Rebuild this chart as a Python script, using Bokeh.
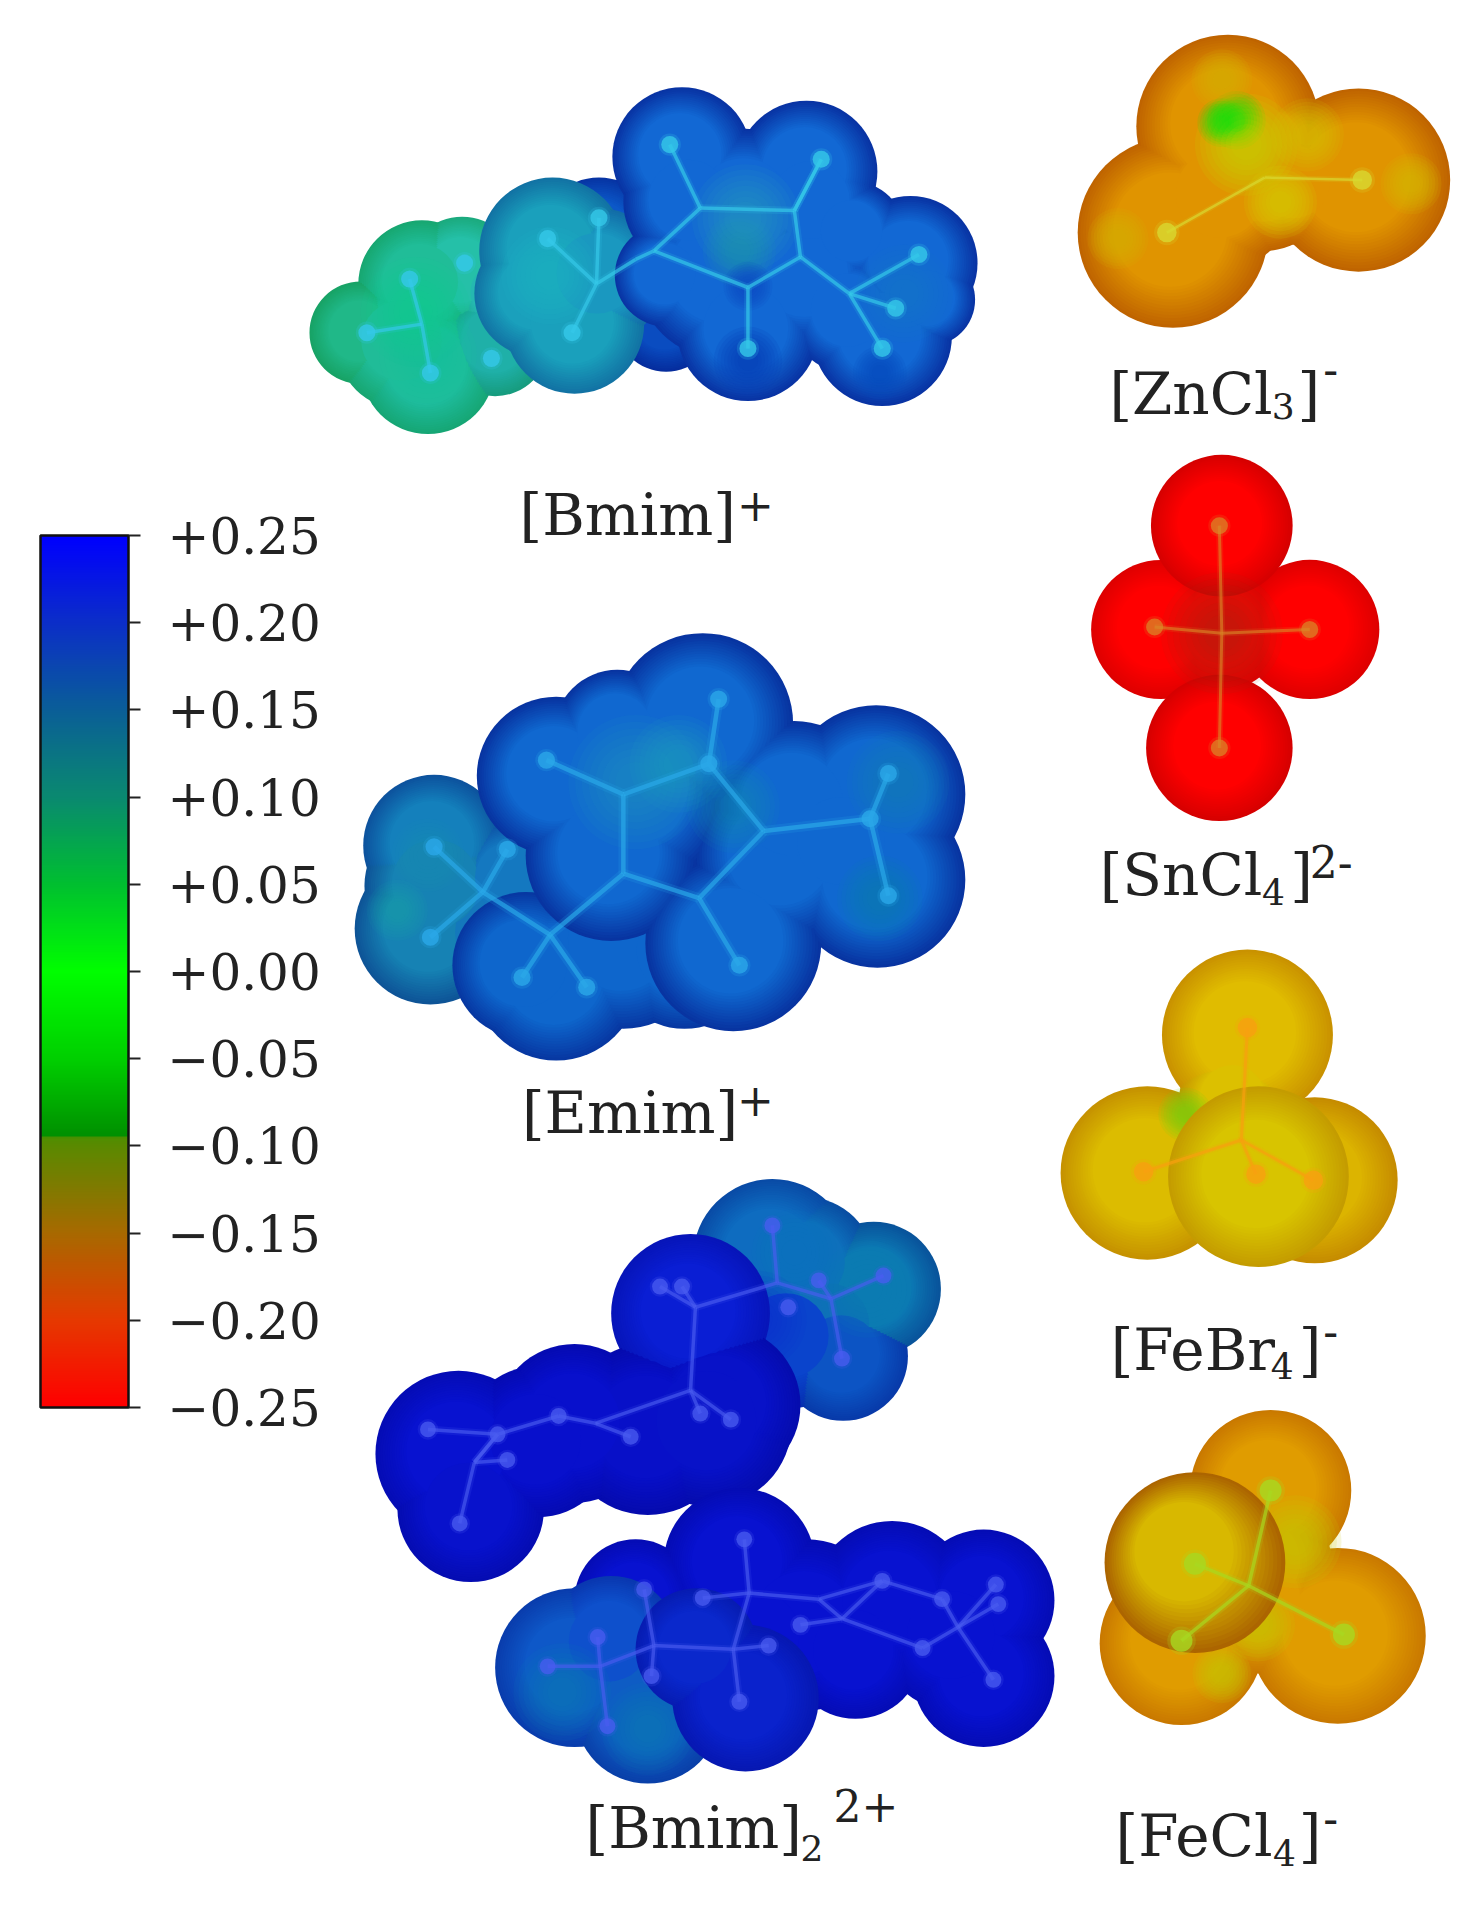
import numpy as np
from bokeh.plotting import figure
from bokeh.models import Range1d, ColorBar, LinearColorMapper, FixedTicker
from bokeh.core.properties import value
from bokeh.embed import file_html
from bokeh.resources import INLINE

# ---------- colour scale ----------
tick_values = [-0.25, -0.20, -0.15, -0.10, -0.05, 0.00, 0.05, 0.10, 0.15, 0.20, 0.25]
tick_labels = ["\u22120.25", "\u22120.20", "\u22120.15", "\u22120.10", "\u22120.05", "+0.00",
               "+0.05", "+0.10", "+0.15", "+0.20", "+0.25"]
scale_stops = [-0.25, -0.20, -0.15, -0.10, -0.0955, -0.0945, -0.05, 0.0, 0.05, 0.10, 0.15, 0.20, 0.25]
scale_cols = ["#ff0000", "#e63a00", "#a86a00", "#5a8a00", "#4f8f00", "#009000", "#00d000", "#00ff00",
              "#00c030", "#0a8a70", "#0a5f98", "#0c2fc8", "#0000ff"]

# ---------- [Bmim]+ ----------
bm_back_x = [490, 545, 590]; bm_back_y = [195, 262, 270]; bm_back_r = [50, 42, 40]
bm_back_c = ["#0c58c8", "#0a4cc0", "#0a4cc0"]
bm_green_x = [378, 345, 295, 350, 405, 410, 330]; bm_green_y = [222, 232, 272, 300, 280, 240, 280]
bm_green_r = [45, 52, 42, 55, 44, 40, 55]
bm_green_c = ["#25c0a8", "#20bd98", "#20b888", "#1ebc9c", "#1fb0a8", "#25b8b0", "#20bc98"]
bm_teal_x = [452, 440, 470, 490]; bm_teal_y = [205, 240, 265, 225]; bm_teal_r = [60, 52, 57, 55]
bm_teal_c = ["#1aa0bc", "#1aa0bc", "#1aa0bc", "#1a98c0"]
bm_ring_x = [558, 660, 610, 590, 660, 612, 745, 722, 695, 545, 665, 565, 760, 698]
bm_ring_y = [128, 140, 170, 225, 225, 270, 215, 275, 255, 225, 165, 165, 245, 190]
bm_ring_r = [57, 58, 65, 68, 60, 58, 55, 57, 50, 42, 53, 55, 38, 42]
bm_ring_c = ["#1268d4"] * 14
bm_glow_x = [610, 605, 450, 340, 350, 740]; bm_glow_y = [178, 205, 225, 255, 290, 240]; bm_glow_r = [44, 30, 40, 45, 40, 40]
bm_glow_c = ["#28a8b8", "#20a0a8", "#22c0c8", "#10cf90", "#14cc98", "#1878c8"]
bm_dark_x = [612, 612, 720]; bm_dark_y = [234, 295, 305]; bm_dark_r = [20, 28, 22]; bm_dark_c = ["#0c4cc0", "#0a3cb8", "#0a48bc"]
bm_node_x = [548, 672, 573, 650, 535, 612, 612, 655, 695, 752, 722, 733, 520, 448, 490, 468, 400, 335, 345, 300, 352, 380, 402, 488]
bm_node_y = [118, 130, 170, 172, 205, 235, 285, 210, 240, 208, 285, 252, 212, 195, 178, 272, 290, 228, 265, 272, 305, 215, 293, 232]
bm_ball = [0, 1, 6, 9, 10, 11, 13, 14, 15, 17, 19, 20, 21, 22]
bm_b0 = [0, 2, 3, 1, 2, 3, 4, 5, 5, 7, 8, 8, 8, 4, 12, 23, 23, 23, 18, 18, 18]
bm_b1 = [2, 3, 1, 3, 4, 7, 5, 6, 7, 8, 9, 10, 11, 12, 23, 13, 14, 15, 17, 19, 20]
bm_skel_c = "#35c8e8"

# ---------- [Emim]+ ----------
em_tail_x = [355, 352, 410, 358, 420]; em_tail_y = [692, 760, 765, 725, 720]; em_tail_r = [58, 62, 60, 60, 50]
em_tail_c = ["#1480bc", "#1682b4", "#1478bc", "#1682b4", "#1478c0"]
em_low_x = [455, 430, 510, 560]; em_low_y = [800, 790, 770, 780]; em_low_r = [68, 60, 72, 62]
em_low_c = ["#0e66cc"] * 4
em_main_x = [455, 575, 520, 717, 718, 640, 600, 500, 650, 690, 505]
em_main_y = [635, 592, 650, 650, 720, 700, 772, 700, 660, 690, 600]
em_main_r = [65, 74, 75, 73, 72, 72, 72, 70, 70, 60, 52]
em_main_c = ["#1068d0"] * 11
em_glow_x = [520, 555, 600, 735, 325, 350, 720]; em_glow_y = [640, 625, 660, 640, 745, 700, 735]; em_glow_r = [55, 40, 38, 42, 25, 30, 35]
em_glow_c = ["#1ea0c0", "#1fa8b8", "#1890b0", "#1480b0", "#18a8a8", "#1a90b0", "#1080a8"]
em_node_x = [447, 588, 727, 727, 712, 605, 480, 427, 355, 352, 415, 510, 580, 510, 625, 572, 450, 395]
em_node_y = [622, 572, 633, 733, 670, 790, 808, 800, 693, 767, 695, 650, 625, 715, 680, 735, 765, 730]
em_ball = [0, 1, 2, 3, 4, 5, 6, 7, 8, 9, 10, 12]
em_b0 = [0, 11, 12, 12, 11, 13, 15, 14, 4, 4, 15, 13, 16, 16, 16, 17, 17, 17]
em_b1 = [11, 12, 1, 14, 13, 15, 14, 4, 2, 3, 5, 16, 6, 7, 17, 8, 9, 10]
em_skel_c = "#2aa8e8"

# ---------- [Bmim]2 2+ ----------
d1_x = [715, 660, 632, 680, 690, 645]; d1_y = [1055, 1035, 1030, 1085, 1110, 1095]; d1_r = [55, 55, 65, 55, 53, 58]
d1_c = ["#0d78b4", "#0e70bc", "#0e6cc0", "#0e70b8", "#0c54c4", "#0a44cc"]
d2_x = [565, 590, 530, 470, 375, 385, 580, 440]
d2_y = [1075, 1150, 1170, 1165, 1190, 1235, 1165, 1180]
d2_r = [65, 65, 70, 65, 68, 60, 68, 62]
d2_c = ["#0a1ed4", "#0812c8", "#0810c8", "#0810cc", "#0812d0", "#0812cc", "#0812c8", "#0810cc"]
d3_x = [605, 520, 660, 730, 805, 805, 780, 700, 620]
d3_y = [1280, 1310, 1330, 1310, 1310, 1372, 1340, 1352, 1340]
d3_r = [62, 50, 70, 65, 58, 58, 60, 55, 60]
d3_c = ["#0812d0"] * 9
d4_x = [610, 570]; d4_y = [1390, 1350]; d4_r = [60, 50]; d4_c = ["#0a22cc", "#0a28cc"]
d5_x = [470, 530, 500]; d5_y = [1365, 1400, 1345]; d5_r = [65, 60, 55]; d5_c = ["#0e58c8", "#0e5cc4", "#0e50cc"]
d_glow_x = [710, 650, 620, 460, 530]; d_glow_y = [1055, 1025, 1080, 1385, 1415]; d_glow_r = [40, 35, 40, 40, 38]
d_glow_c = ["#1080b0", "#1078b8", "#0a28d0", "#1080b0", "#1080b0"]
dt_node_x = [632, 636, 680, 723, 689, 569, 540, 558, 565, 598, 573, 487, 457, 516, 407, 350, 388, 415, 376, 670, 645]
dt_node_y = [1003, 1050, 1063, 1044, 1112, 1070, 1053, 1053, 1138, 1162, 1157, 1165, 1159, 1176, 1174, 1170, 1197, 1195, 1247, 1048, 1070]
dt_ball = [0, 3, 4, 6, 7, 9, 10, 12, 13, 14, 15, 17, 18, 19, 20]
dt_b0 = [0, 1, 2, 2, 1, 5, 5, 5, 8, 8, 8, 11, 12, 11, 14, 14, 16, 16, 16, 2]
dt_b1 = [1, 2, 3, 4, 5, 6, 7, 8, 9, 10, 11, 12, 14, 13, 15, 16, 17, 18, 14, 19]
db_node_x = [609, 613, 575, 670, 722, 689, 655, 771, 815, 817, 784, 813, 755, 600, 629, 605, 535, 527, 533, 491, 489, 448, 497]
db_node_y = [1260, 1304, 1308, 1309, 1294, 1325, 1330, 1309, 1297, 1313, 1332, 1375, 1349, 1350, 1347, 1393, 1347, 1301, 1372, 1364, 1340, 1364, 1413]
db_ball = [0, 2, 4, 6, 7, 8, 9, 11, 12, 14, 15, 17, 18, 20, 21, 22]
db_b0 = [0, 1, 1, 3, 4, 5, 5, 7, 10, 10, 10, 10, 1, 13, 13, 13, 16, 16, 16, 19, 19, 19, 4, 5]
db_b1 = [1, 2, 3, 4, 7, 3, 6, 10, 8, 9, 11, 12, 13, 14, 15, 16, 17, 18, 19, 20, 21, 22, 5, 12]

# ---------- anions ----------
zn_x = [1005, 960, 1112, 1035, 1060, 1000, 1040]; zn_y = [103, 190, 147, 150, 150, 160, 118]; zn_r = [75, 78, 75, 55, 50, 60, 45]
zn_c = ["#e09400"] * 7
zn_glow_x = [1020, 1012, 1048, 1070, 1000, 915, 1155, 1000]; zn_glow_y = [118, 98, 165, 110, 65, 195, 150, 100]; zn_glow_r = [42, 24, 30, 30, 25, 25, 25, 20]
zn_glow_c = ["#c8d800", "#10e010", "#d8d000", "#d8c000", "#d8b000", "#d8b000", "#d8b800", "#10e010"]
zn_glow_a = 0.14
zn_node_x = [1035, 955, 1115]; zn_node_y = [145, 190, 147]; zn_ball = [1, 2]; zn_b0 = [0, 0]; zn_b1 = [1, 2]

sn_back_x = [950, 1072, 1000]; sn_back_y = [515, 515, 515]; sn_back_r = [57, 57, 50]; sn_back_c = ["#ff0000"] * 3
sn_top_x = [1000]; sn_top_y = [430]; sn_top_r = [58]; sn_top_c = ["#ff0000"]
sn_bot_x = [998]; sn_bot_y = [612]; sn_bot_r = [60]; sn_bot_c = ["#ff0000"]
sn_mid_x = [1000]; sn_mid_y = [518]; sn_mid_r = [50]; sn_mid_c = ["#a02818"]
sn_node_x = [1000, 998, 998, 945, 1072]; sn_node_y = [518, 430, 612, 513, 515]; sn_ball = [1, 2, 3, 4]
sn_b0 = [0, 0, 0, 0]; sn_b1 = [1, 2, 3, 4]

fb_back_x = [1076, 939, 1021, 1010]; fb_back_y = [966, 960, 847, 900]; fb_back_r = [68, 71, 70, 45]
fb_back_c = ["#dcb400", "#dcbc00", "#e0bc00", "#dcc000"]
fb_front_x = [1030]; fb_front_y = [963]; fb_front_r = [74]; fb_front_c = ["#d8c400"]
fb_glow_x = [970]; fb_glow_y = [912]; fb_glow_r = [22]; fb_glow_c = ["#70d810"]
fb_node_x = [1016, 1021, 936, 1075, 1028]; fb_node_y = [933, 841, 959, 966, 961]; fb_ball = [1, 2, 3, 4]
fb_b0 = [0, 0, 0, 0]; fb_b1 = [1, 2, 3, 4]

fc_back_x = [1040, 1095, 967, 1030, 1030]; fc_back_y = [1220, 1339, 1345, 1310, 1280]; fc_back_r = [66, 72, 67, 60, 60]
fc_back_c = ["#e09c00"] * 5
fc_back_glow_x = [1060, 1030, 1000]; fc_back_glow_y = [1262, 1330, 1370]; fc_back_glow_r = [38, 30, 24]
fc_back_glow_c = ["#c8c800", "#c8c800", "#c8c800"]
fc_front_x = [978]; fc_front_y = [1279]; fc_front_r = [74]; fc_front_c = ["#d8b800"]
fc_node_x = [1022, 1040, 978, 967, 1100]; fc_node_y = [1298, 1220, 1280, 1343, 1338]; fc_ball = [1, 2, 3, 4]
fc_b0 = [0, 0, 0, 0]; fc_b1 = [1, 2, 3, 4]

# ---------- labels ----------
main_text = ["[Bmim]", "[Emim]", "[Bmim]", "[ZnCl", "]", "[SnCl", "]", "[FeBr", "]", "[FeCl", "]"]
main_x = [425, 427, 479, 908, 1062, 900, 1056, 909, 1063, 913, 1063]
main_y = [421, 911, 1496, 322, 322, 716, 716, 1105, 1105, 1503, 1503]
sup_text = ["+", "+", "2+", "-", "2-", "-", "-"]
sup_x = [603, 603, 682, 1083, 1072, 1083, 1083]
sup_y = [413, 900, 1478, 301, 705, 1089, 1488]
sub_text = ["2", "3", "4", "4", "4"]
sub_x = [655, 1041, 1033, 1040, 1042]
sub_y = [1513, 332, 730, 1118, 1517]

S = 1.2213
p = figure(width=1460, height=1899, output_backend="svg", toolbar_location=None,
           x_range=Range1d(0, 1460 / S), y_range=Range1d(1899 / S, 0),
           min_border=0, outline_line_color=None, background_fill_color="white")
p.axis.visible = False
p.grid.visible = False


def hex2rgb(c):
    return np.array([int(c[i:i + 2], 16) for i in (1, 3, 5)], float)


def rgb2hex(a):
    a = np.clip(a, 0, 255).astype(int)
    return "#%02x%02x%02x" % tuple(a)


def shaded(c, s):
    a = hex2rgb(c)
    out = a * s
    i = int(np.argmax(a))
    out[i] = a[i] * (s + (1 - s) * 0.55)
    return rgb2hex(out)


def spheres(x, y, r, c, rim=0.62, layers=14, inner=0.6, tilt=0.03):
    x, y, r = map(np.array, (x, y, r))
    for k in range(layers):
        t = k / (layers - 1)
        f = 1 - (1 - inner) * t
        s = rim + (1 - rim) * t
        cols = [shaded(ci, s) for ci in c]
        p.circle(x=x - tilt * t * r, y=y - tilt * t * r, radius=r * f, fill_color=cols, line_color=None)


def glow(x, y, r, c, alpha=0.09, layers=8):
    x, y, r = map(np.array, (x, y, r))
    for k in range(layers):
        f = 1 - 0.8 * k / layers
        p.circle(x=x, y=y, radius=r * f, fill_color=c, fill_alpha=alpha, line_color=None)


def skeleton(nx, ny, ball, b0, b1, col, w=4.5, br=7, alpha=0.7):
    nx, ny = np.array(nx), np.array(ny)
    p.segment(x0=nx[b0], y0=ny[b0], x1=nx[b1], y1=ny[b1], line_color=col, line_width=w * 2.2, line_alpha=alpha * 0.25)
    p.segment(x0=nx[b0], y0=ny[b0], x1=nx[b1], y1=ny[b1], line_color=col, line_width=w, line_alpha=alpha)
    p.circle(x=nx[ball], y=ny[ball], radius=br * 1.3, fill_color=col, fill_alpha=alpha * 0.3, line_color=None)
    p.circle(x=nx[ball], y=ny[ball], radius=br, fill_color=col, fill_alpha=alpha + 0.1, line_color=None)


# Bmim+
spheres(bm_back_x, bm_back_y, bm_back_r, bm_back_c, rim=0.6)
spheres(bm_green_x, bm_green_y, bm_green_r, bm_green_c, rim=0.75)
spheres(bm_teal_x, bm_teal_y, bm_teal_r, bm_teal_c, rim=0.72)
spheres(bm_ring_x, bm_ring_y, bm_ring_r, bm_ring_c, rim=0.5)
glow(bm_glow_x, bm_glow_y, bm_glow_r, bm_glow_c)
glow(bm_dark_x, bm_dark_y, bm_dark_r, bm_dark_c, alpha=0.15)
skeleton(bm_node_x, bm_node_y, bm_ball, bm_b0, bm_b1, bm_skel_c, w=3.5)

# Emim+
spheres(em_tail_x, em_tail_y, em_tail_r, em_tail_c, rim=0.65)
spheres(em_low_x, em_low_y, em_low_r, em_low_c, rim=0.55)
spheres(em_main_x, em_main_y, em_main_r, em_main_c, rim=0.5)
glow(em_glow_x, em_glow_y, em_glow_r, em_glow_c)
skeleton(em_node_x, em_node_y, em_ball, em_b0, em_b1, em_skel_c, w=4.5)

# [Bmim]2 2+
spheres(d1_x, d1_y, d1_r, d1_c, rim=0.7)
glow(d_glow_x[:3], d_glow_y[:3], d_glow_r[:3], d_glow_c[:3])
spheres(d2_x, d2_y, d2_r, d2_c, rim=0.72)
spheres(d3_x, d3_y, d3_r, d3_c, rim=0.72)
spheres(d5_x, d5_y, d5_r, d5_c, rim=0.7)
glow(d_glow_x[3:], d_glow_y[3:], d_glow_r[3:], d_glow_c[3:])
spheres(d4_x, d4_y, d4_r, d4_c, rim=0.72)
skeleton(dt_node_x, dt_node_y, dt_ball, dt_b0, dt_b1, "#4a5cf0", w=3.5, br=6.5, alpha=0.65)
skeleton(db_node_x, db_node_y, db_ball, db_b0, db_b1, "#4a5cf0", w=3.5, br=6.5, alpha=0.65)

# anions
spheres(zn_x, zn_y, zn_r, zn_c, rim=0.68)
glow(zn_glow_x, zn_glow_y, zn_glow_r, zn_glow_c, alpha=zn_glow_a)
skeleton(zn_node_x, zn_node_y, zn_ball, zn_b0, zn_b1, "#d8d830", w=2.5, br=8)

spheres(sn_back_x, sn_back_y, sn_back_r, sn_back_c, rim=0.72)
spheres(sn_top_x, sn_top_y, sn_top_r, sn_top_c, rim=0.65)
spheres(sn_bot_x, sn_bot_y, sn_bot_r, sn_bot_c, rim=0.65)
glow(sn_mid_x, sn_mid_y, sn_mid_r, sn_mid_c, alpha=0.09)
skeleton(sn_node_x, sn_node_y, sn_ball, sn_b0, sn_b1, "#d88a28", w=3, br=7, alpha=0.6)

spheres(fb_back_x, fb_back_y, fb_back_r, fb_back_c, rim=0.78)
glow(fb_glow_x, fb_glow_y, fb_glow_r, fb_glow_c, alpha=0.14)
spheres(fb_front_x, fb_front_y, fb_front_r, fb_front_c, rim=0.8)
skeleton(fb_node_x, fb_node_y, fb_ball, fb_b0, fb_b1, "#f8a010", w=3, br=8)

spheres(fc_back_x, fc_back_y, fc_back_r, fc_back_c, rim=0.78)
glow(fc_back_glow_x, fc_back_glow_y, fc_back_glow_r, fc_back_glow_c, alpha=0.14)
spheres(fc_front_x, fc_front_y, fc_front_r, fc_front_c, rim=0.55, tilt=0.12, inner=0.55)
skeleton(fc_node_x, fc_node_y, fc_ball, fc_b0, fc_b1, "#a8d820", w=3.5, br=9)

# labels
p.text(x=main_x, y=main_y, text=main_text, text_font=value("DejaVu Serif"), text_font_size="58px",
       text_color="#222222", text_baseline="middle", text_align="left")
p.text(x=sup_x, y=sup_y, text=sup_text, text_font=value("DejaVu Serif"), text_font_size="44px",
       text_color="#222222", text_baseline="middle", text_align="left")
p.text(x=sub_x, y=sub_y, text=sub_text, text_font=value("DejaVu Serif"), text_font_size="36px",
       text_color="#222222", text_baseline="middle", text_align="left")

# colour bar
xs = np.linspace(-0.25, 0.25, 512)
pal = [rgb2hex(np.array([np.interp(v, scale_stops, [hex2rgb(c)[i] for c in scale_cols]) for i in range(3)])) for v in xs]
mapper = LinearColorMapper(palette=pal, low=-0.25, high=0.25)
overrides = {float(v): t for v, t in zip(tick_values, tick_labels)}
cb = ColorBar(color_mapper=mapper, ticker=FixedTicker(ticks=tick_values), major_label_overrides=overrides,
              width=88, height=872, location=(40, 492), padding=0, margin=0,
              bar_line_color="#111111", bar_line_width=2.5,
              major_tick_line_color="#222222", major_tick_line_width=2, major_tick_in=0, major_tick_out=12,
              minor_tick_line_color=None, border_line_color=None, background_fill_alpha=0,
              label_standoff=27, major_label_text_font="DejaVu Serif", major_label_text_font_size="50px",
              major_label_text_color="#222222")
p.add_layout(cb, "center")

open("out.html", "w").write(file_html(p, INLINE))
